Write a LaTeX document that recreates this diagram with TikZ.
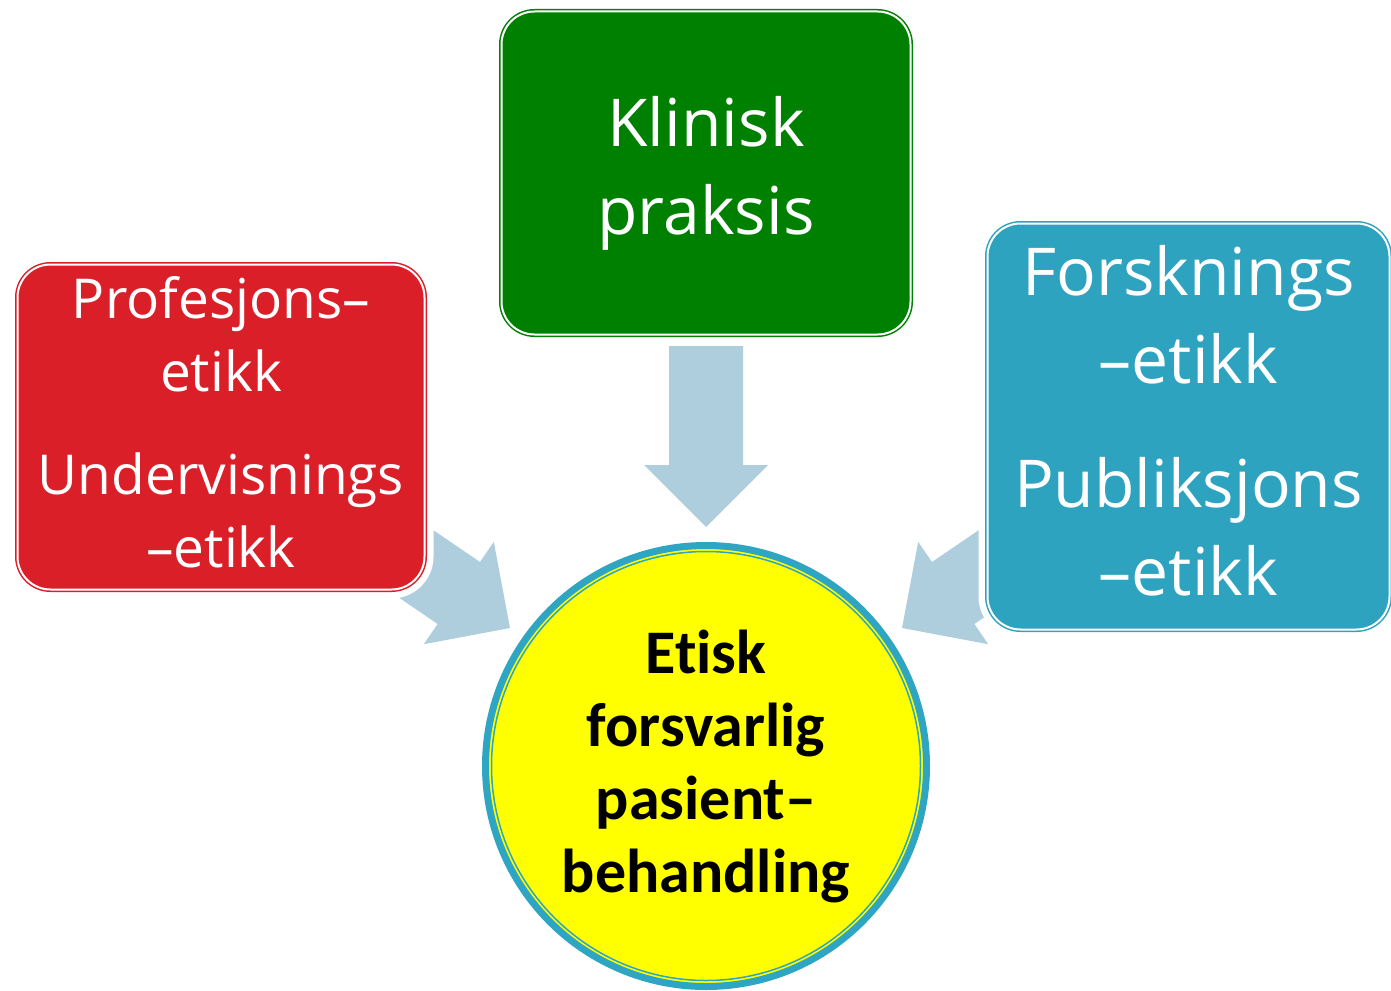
\documentclass[tikz,border=0pt]{standalone}
\usepackage{fontspec}
\setmainfont{Open Sans}
\newfontfamily\circfont[Ligatures=NoCommon]{Carlito}
\definecolor{boxred}{RGB}{218,31,40}
\definecolor{boxgreen}{RGB}{0,128,0}
\definecolor{boxblue}{RGB}{46,163,192}
\definecolor{ringblue}{RGB}{46,165,194}
\definecolor{arrowblue}{RGB}{174,206,222}
\definecolor{circyellow}{RGB}{255,255,0}
\pgfdeclarelayer{arrowlayer}
\pgfdeclarelayer{halolayer}
\pgfsetlayers{arrowlayer,halolayer,main}
\tikzset{
  boxnode/.style={rectangle, rounded corners=33pt, line width=1.5pt,
    double=white, double distance=2pt, inner sep=0pt, outer sep=0pt,
    text=white, align=center},
  halo/.style={draw=white, fill=white, line width=18pt, rounded corners=33pt},
  blockarrow/.style={fill=arrowblue},
  bigtext/.style={font=\fontsize{66}{88}\selectfont},
  smalltext/.style={font=\fontsize{55}{73}\selectfont},
  circnode/.style={circle, minimum size=441pt, inner sep=0pt, outer sep=0pt,
    fill=circyellow, draw=ringblue, line width=7pt, align=center,
    font=\circfont\bfseries\fontsize{62}{73}\selectfont}
}
\begin{document}
\begin{tikzpicture}[x=1pt,y=-1pt]
\useasboundingbox (0,0) rectangle (1391,990);

% boxes
\node[boxnode, smalltext, fill=boxred, draw=boxred,
  minimum width=407pt, minimum height=325pt] (prof) at (221,427)
  {Profesjons–\\etikk\\[30pt]Undervisnings\\–etikk\rule[-11pt]{0pt}{0pt}};
\node[boxnode, bigtext, fill=boxgreen, draw=boxgreen,
  minimum width=409pt, minimum height=323pt] (klin) at (706,173)
  {Klinisk\\praksis};
\node[boxnode, bigtext, fill=boxblue, draw=boxblue,
  minimum width=402pt, minimum height=406pt] (forsk) at (1188.5,426.5)
  {Forsknings\\–etikk\\[36pt]Publiksjons\\–etikk\rule[-13pt]{0pt}{0pt}};

% central circle
\node[circnode] (etisk) at (706,766)
  {Etisk\\forsvarlig\\pasient–\\behandling};
\draw[ringblue, line width=1.5pt] (etisk.center) circle (214.5pt);

% white halos behind boxes
\begin{pgfonlayer}{halolayer}
  \draw[halo] (prof.north west) rectangle (prof.south east);
  \draw[halo] (klin.north west) rectangle (klin.south east);
  \draw[halo] (forsk.north west) rectangle (forsk.south east);
\end{pgfonlayer}

% block arrows
\begin{pgfonlayer}{arrowlayer}
  \coordinate (tipD) at (706,527);
  \coordinate (tipL) at (510,628);
  \coordinate (tipR) at (902,628);
  \fill[blockarrow] (669,346) -- (743,346) -- (743,465) -- (768,465)
    -- (tipD) -- (644,465) -- (669,465) -- cycle;
  \fill[blockarrow] (381.7,494.9) -- (480.0,562.0) -- (493.8,541.8)
    -- (tipL) -- (423.8,644.2) -- (437.6,624.0) -- (339.3,556.9) -- cycle;
  \fill[blockarrow] (1030.3,494.9) -- (932.0,562.0) -- (918.2,541.8)
    -- (tipR) -- (988.2,644.2) -- (974.4,624.0) -- (1072.7,556.9) -- cycle;
\end{pgfonlayer}
\end{tikzpicture}
\end{document}
